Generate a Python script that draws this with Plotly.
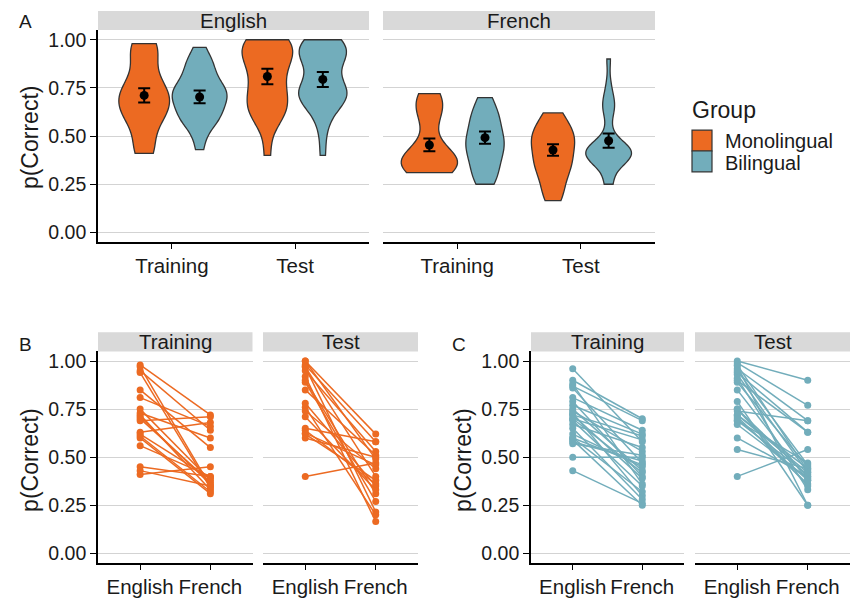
import numpy as np
import plotly.graph_objects as go

W, H = 854, 598

# ---------------- data ----------------
phases = ["Training", "Test"]
languages = ["English", "French"]
groups = ["Monolingual", "Bilingual"]

# per-participant p(Correct), monolinguals (paired English/French)
mono_train_eng = [0.98, 0.97, 0.95, 0.94, 0.85, 0.81, 0.75, 0.73, 0.72, 0.71, 0.69, 0.63, 0.61, 0.60, 0.56, 0.45, 0.41, 0.70, 0.62, 0.43]
mono_train_fr = [0.72, 0.35, 0.64, 0.34, 0.55, 0.66, 0.38, 0.60, 0.33, 0.36, 0.71, 0.68, 0.32, 0.31, 0.40, 0.40, 0.45, 0.37, 0.39, 0.35]
mono_test_eng = [1.00, 0.98, 0.97, 0.95, 0.92, 0.90, 0.89, 0.85, 0.78, 0.76, 0.74, 0.71, 0.65, 0.64, 0.625, 0.62, 0.60, 0.40, 1.00, 0.97]
mono_test_fr = [0.62, 0.58, 0.215, 0.53, 0.165, 0.31, 0.27, 0.51, 0.35, 0.20, 0.44, 0.33, 0.58, 0.36, 0.46, 0.38, 0.50, 0.47, 0.49, 0.40]

# bilinguals
bi_train_eng = [0.96, 0.90, 0.88, 0.87, 0.86, 0.81, 0.79, 0.77, 0.74, 0.73, 0.72, 0.70, 0.69, 0.67, 0.60, 0.59, 0.57, 0.50, 0.43, 0.72, 0.70, 0.65, 0.62, 0.60, 0.58, 0.75]
bi_train_fr = [0.58, 0.70, 0.36, 0.69, 0.47, 0.64, 0.40, 0.62, 0.53, 0.30, 0.61, 0.42, 0.35, 0.55, 0.46, 0.25, 0.51, 0.50, 0.26, 0.39, 0.59, 0.28, 0.45, 0.32, 0.48, 0.43]
bi_test_eng = [1.00, 0.99, 0.975, 0.96, 0.94, 0.93, 0.91, 0.89, 0.85, 0.79, 0.75, 0.74, 0.72, 0.71, 0.69, 0.69, 0.67, 0.60, 0.54, 0.40, 0.98, 0.95, 0.90, 0.75, 0.72, 0.70]
bi_test_fr = [0.90, 0.77, 0.25, 0.69, 0.63, 0.42, 0.33, 0.45, 0.38, 0.25, 0.40, 0.69, 0.44, 0.36, 0.41, 0.47, 0.39, 0.40, 0.44, 0.54, 0.43, 0.46, 0.63, 0.35, 0.42, 0.38]

# panel A summaries (mean and SE), order: Training, Test
mean_english_mono = [0.711, 0.809]
se_english_mono = [0.037, 0.040]
mean_english_bi = [0.703, 0.794]
se_english_bi = [0.033, 0.039]
mean_french_mono = [0.454, 0.428]
se_french_mono = [0.033, 0.030]
mean_french_bi = [0.492, 0.476]
se_french_bi = [0.032, 0.037]

y_ticks = [0, 0.25, 0.5, 0.75, 1.0]
y_ticktext = ["0.00", "0.25", "0.50", "0.75", "1.00"]

# ---------------- style ----------------
ORANGE = "#EC6A22"
TEAL = "#72ADBB"
OUTLINE = "#333333"
STRIP = "#D9D9D9"
GRID = "#D3D3D3"
TXT = "#1a1a1a"
FONT = "Liberation Sans, Arial, Helvetica, sans-serif"
colors = {"Monolingual": ORANGE, "Bilingual": TEAL}
DODGE = 0.225

fig = go.Figure()
layout = dict(
    width=W, height=H, margin=dict(l=0, r=0, t=0, b=0),
    paper_bgcolor="white", plot_bgcolor="white", showlegend=False,
    font=dict(family=FONT, color=TXT),
    shapes=[], annotations=[],
)


def ax_names(i):
    return ("xaxis" if i == 1 else f"xaxis{i}", "yaxis" if i == 1 else f"yaxis{i}",
            "x" if i == 1 else f"x{i}", "y" if i == 1 else f"y{i}")


def add_panel(i, x0, x1, y0, y1, show_y, ticktext, strip_text, strip_top):
    xa, ya, xr, yr = ax_names(i)
    layout[xa] = dict(domain=[x0 / W, x1 / W], range=[-0.6, len(ticktext) - 0.4], anchor=yr,
                      tickvals=list(range(len(ticktext))), ticktext=ticktext,
                      showline=True, linecolor="black", linewidth=1.6,
                      ticks="outside", ticklen=5, tickwidth=1.4, tickcolor="black",
                      showgrid=False, zeroline=False, fixedrange=True,
                      tickfont=dict(size=20.5, color=TXT, family=FONT))
    layout[ya] = dict(domain=[1 - y1 / H, 1 - y0 / H], range=[-0.05, 1.05], anchor=xr,
                      tickvals=y_ticks, ticktext=y_ticktext, showticklabels=show_y,
                      showline=show_y, linecolor="black", linewidth=1.6,
                      ticks="outside" if show_y else "", ticklen=6, tickwidth=1.4, tickcolor="black",
                      showgrid=True, gridcolor=GRID, gridwidth=1.2, zeroline=False, fixedrange=True,
                      tickfont=dict(size=19.5, color=TXT, family=FONT))
    layout["shapes"].append(dict(type="rect", xref="paper", yref="paper",
                                 x0=x0 / W, x1=x1 / W, y0=1 - y0 / H, y1=1 - strip_top / H,
                                 fillcolor=STRIP, line=dict(width=0), layer="below"))
    layout["annotations"].append(dict(text=strip_text, xref="paper", yref="paper",
                                      x=(x0 + x1) / 2 / W, y=1 - (strip_top + y0) / 2 / H,
                                      showarrow=False, xanchor="center", yanchor="middle",
                                      font=dict(size=20.5, color=TXT, family=FONT)))
    return xr, yr


def nrd0(v):
    v = np.asarray(v, dtype=float)
    sd = v.std(ddof=1)
    iqr = np.subtract(*np.percentile(v, [75, 25]))
    lo = min(sd, iqr / 1.34) if iqr > 0 else sd
    return 0.9 * lo * len(v) ** -0.2


# ---------------- panel A ----------------
A_top, A_bot = 29.3, 242.7
xA1, yA1 = add_panel(1, 98, 369, A_top, A_bot, True, phases, "English", 10)
xA2, yA2 = add_panel(2, 383, 655, A_top, A_bot, False, phases, "French", 10)

violin_data = {
    ("English", "Training", "Monolingual"): mono_train_eng,
    ("English", "Training", "Bilingual"): bi_train_eng,
    ("English", "Test", "Monolingual"): mono_test_eng,
    ("English", "Test", "Bilingual"): bi_test_eng,
    ("French", "Training", "Monolingual"): mono_train_fr,
    ("French", "Training", "Bilingual"): bi_train_fr,
    ("French", "Test", "Monolingual"): mono_test_fr,
    ("French", "Test", "Bilingual"): bi_test_fr,
}
violin_width = {
    ("English", "Training", "Monolingual"): 0.41,
    ("English", "Training", "Bilingual"): 0.445,
    ("English", "Test", "Monolingual"): 0.41,
    ("English", "Test", "Bilingual"): 0.39,
    ("French", "Training", "Monolingual"): 0.455,
    ("French", "Training", "Bilingual"): 0.31,
    ("French", "Test", "Monolingual"): 0.35,
    ("French", "Test", "Bilingual"): 0.37,
}
summary = {
    ("English", "Monolingual"): (mean_english_mono, se_english_mono),
    ("English", "Bilingual"): (mean_english_bi, se_english_bi),
    ("French", "Monolingual"): (mean_french_mono, se_french_mono),
    ("French", "Bilingual"): (mean_french_bi, se_french_bi),
}

for lang, (xr, yr) in zip(languages, [(xA1, yA1), (xA2, yA2)]):
    for pi, ph in enumerate(phases):
        for g in groups:
            off = -DODGE if g == "Monolingual" else DODGE
            vals = violin_data[(lang, ph, g)]
            fig.add_trace(go.Violin(
                y=vals, x0=pi + off, name=g, xaxis=xr, yaxis=yr,
                width=violin_width[(lang, ph, g)], scalemode="width",
                spanmode="hard", bandwidth=nrd0(vals), points=False,
                box_visible=False, meanline_visible=False,
                fillcolor=colors[g], opacity=1,
                line=dict(color=OUTLINE, width=1.3), hoveron="violins"))
    for g in groups:
        off = -DODGE if g == "Monolingual" else DODGE
        m, se = summary[(lang, g)]
        fig.add_trace(go.Scatter(
            x=[i + off for i in range(len(phases))], y=m, xaxis=xr, yaxis=yr,
            mode="markers", marker=dict(color="black", size=9),
            error_y=dict(type="data", array=se, visible=True, color="black", thickness=2, width=6),
            name=g + " mean"))

# ---------------- panels B and C ----------------
BC_top, BC_bot = 352.8, 565.7
panels = [
    (3, 98, 252.5, True, "Training", mono_train_eng, mono_train_fr, ORANGE),
    (4, 263, 418, False, "Test", mono_test_eng, mono_test_fr, ORANGE),
    (5, 531, 684, True, "Training", bi_train_eng, bi_train_fr, TEAL),
    (6, 695, 850, False, "Test", bi_test_eng, bi_test_fr, TEAL),
]
for idx, x0, x1, show_y, strip, eng, fr, col in panels:
    xr, yr = add_panel(idx, x0, x1, BC_top, BC_bot, show_y, languages, strip, 333.5)
    xs, ys = [], []
    for e, f in zip(eng, fr):
        xs += [0, 1, None]
        ys += [e, f, None]
    fig.add_trace(go.Scatter(x=xs, y=ys, xaxis=xr, yaxis=yr, mode="lines+markers",
                             line=dict(color=col, width=1.5),
                             marker=dict(color=col, size=7), connectgaps=False))

# ---------------- labels ----------------
def ann(text, x, y, size, angle=0, xanchor="center", pad=1):
    layout["annotations"].append(dict(text=text, xref="paper", yref="paper", x=x / W, y=1 - y / H,
                                      showarrow=False, xanchor=xanchor, yanchor="middle", textangle=angle,
                                      borderpad=pad,
                                      font=dict(size=size, color=TXT, family=FONT)))

ann("A", 25, 21, 19)
ann("B", 25, 346, 19)
ann("C", 459, 346, 19)
ann("p(Correct)", 30, 137, 23, -90)
ann("p(Correct)", 30, 462, 23, -90)
ann("p(Correct)", 463, 462, 23, -90)

# legend (drawn)
ann("Group", 690, 110, 23, xanchor="left")
for k, g in enumerate(groups):
    ytop = 130 + k * 21
    layout["shapes"].append(dict(type="rect", xref="paper", yref="paper",
                                 x0=692 / W, x1=712 / W, y0=1 - (ytop + 21) / H, y1=1 - ytop / H,
                                 fillcolor=colors[g], line=dict(color=OUTLINE, width=1.2)))
    ann(g, 724, 141 + k * 22, 20, xanchor="left", pad=0)

fig.update_layout(**layout)
fig.write_html("out.html", config={"displayModeBar": False},
               post_script="document.body.style.margin='0px';document.body.style.overflow='hidden';")
